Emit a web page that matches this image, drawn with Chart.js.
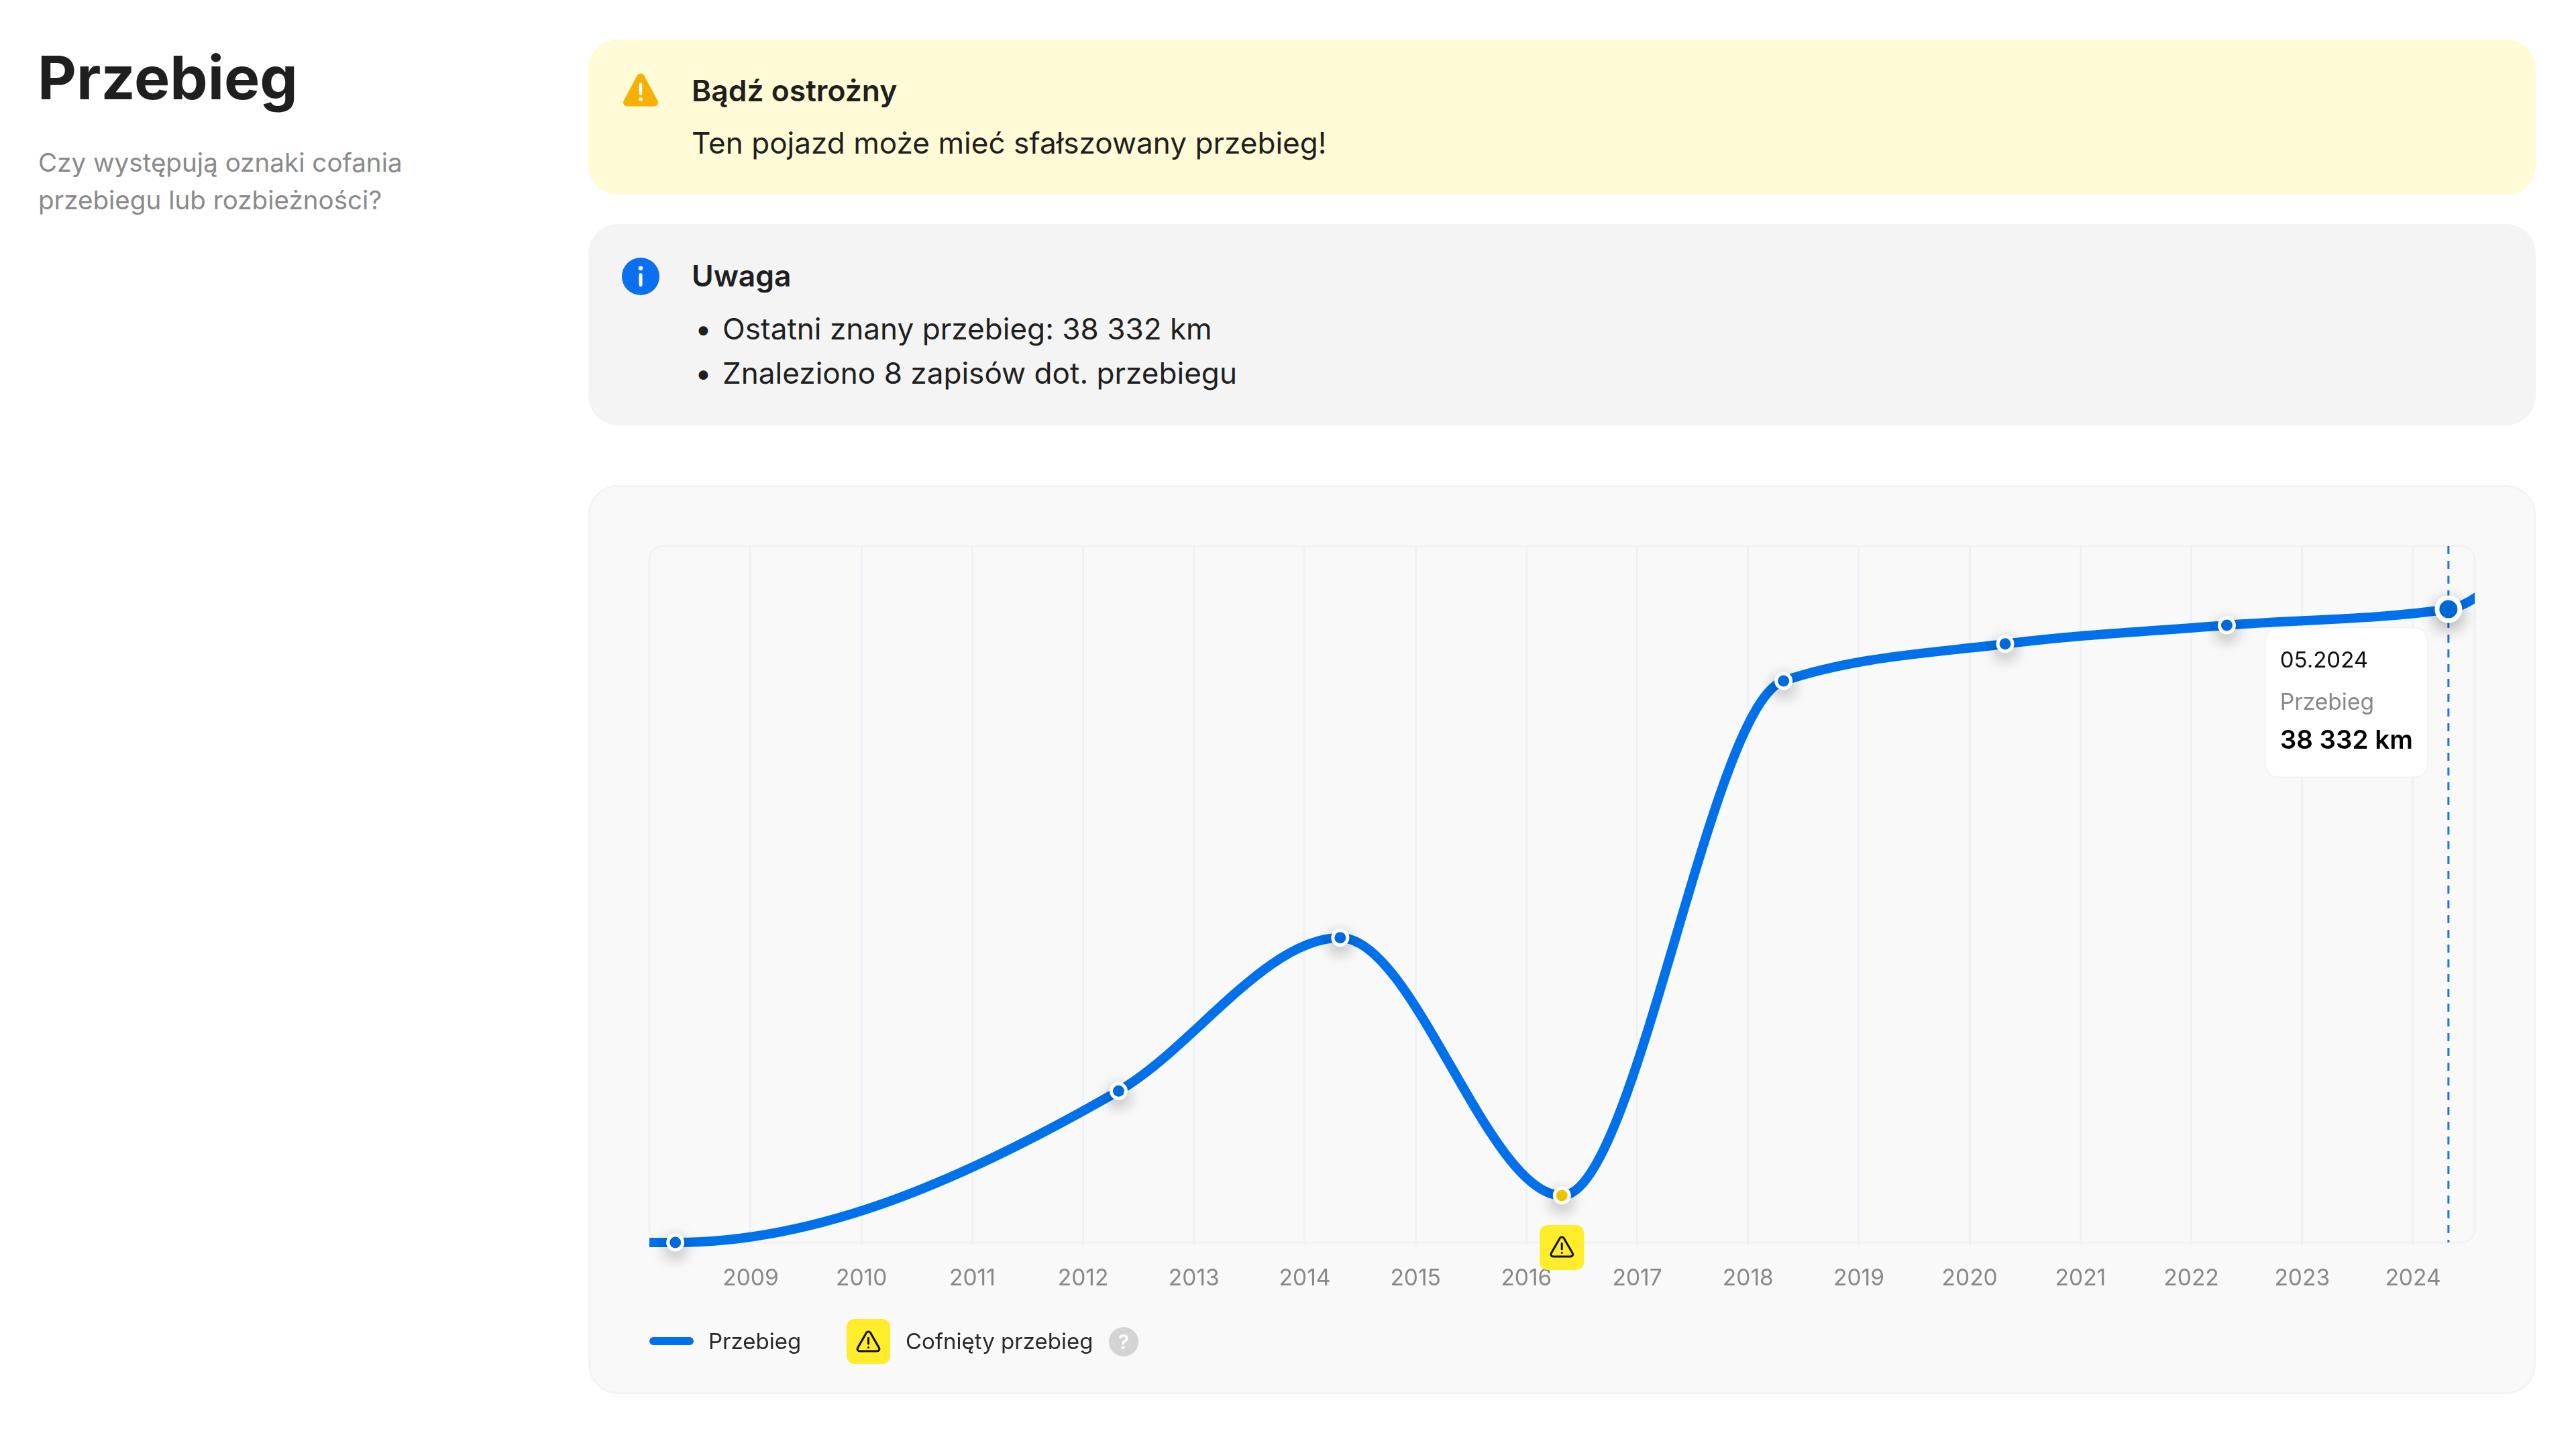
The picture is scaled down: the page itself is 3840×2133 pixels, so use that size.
<!DOCTYPE html>
<html lang="pl">
<head>
<meta charset="utf-8">
<title>Przebieg</title>
<script src="https://cdn.jsdelivr.net/npm/chart.js@4"></script>
<style>
    html, body { margin: 0; padding: 0; background: #fff; }
    body { position: relative; width: 3840px; height: 2133px; overflow: hidden; font-family: Inter, sans-serif; color: #1f1f1f; }
    .abs { position: absolute; white-space: nowrap; }
    .box { position: absolute; left: 877px; width: 2903px; border-radius: 44px; box-sizing: border-box; }
    h1 { margin: 0; font-size: 89.5px; font-weight: 700; line-height: 100px; }
    .sub { font-size: 38.6px; line-height: 56px; color: #8a8a8a; }
    .head { font-size: 44.4px; font-weight: 600; line-height: 60px; }
    .txt { font-size: 44.1px; line-height: 60px; }
    .leg { font-size: 33px; line-height: 50px; color: #2a2a2a; }
    canvas { position: absolute; left: 877px; top: 723px; }
</style>
</head>
<body>
<h1 class="abs" style="left:56px;top:66px">Przebieg</h1>
<div class="abs sub" style="left:57px;top:214px">Czy występują oznaki cofania<br>przebiegu lub rozbieżności?</div>

<div class="box" style="top:59px;height:232px;background:#fffbd6"></div>
<svg class="abs" style="left:927px;top:106px" width="56" height="56" viewBox="0 0 24 24">
    <path fill="#f5b000" d="M12 1.5c-.9 0-1.7.5-2.2 1.3L1.2 18.9c-.9 1.7.3 3.6 2.2 3.6h17.2c1.9 0 3.1-1.9 2.2-3.6L14.2 2.8c-.5-.8-1.3-1.3-2.2-1.3z"/>
    <rect x="11" y="7.5" width="2" height="8" rx="1" fill="#fff"/><circle cx="12" cy="18" r="1.2" fill="#fff"/>
</svg>
<div class="abs head" style="left:1031px;top:105px">Bądź ostrożny</div>
<div class="abs txt" style="left:1031px;top:183px">Ten pojazd może mieć sfałszowany przebieg!</div>

<div class="box" style="top:334px;height:300px;background:#f4f4f4"></div>
<svg class="abs" style="left:927px;top:384px" width="56" height="56" viewBox="0 0 24 24">
    <circle cx="12" cy="12" r="12" fill="#0a6ff0"/>
    <circle cx="12" cy="6.8" r="1.4" fill="#fff"/><rect x="10.9" y="10" width="2.2" height="8.5" rx="1" fill="#fff"/>
</svg>
<div class="abs head" style="left:1031px;top:381px">Uwaga</div>
<div class="abs txt" style="left:1036px;top:460px">•</div>
<div class="abs txt" style="left:1077px;top:460px">Ostatni znany przebieg: 38 332 km</div>
<div class="abs txt" style="left:1036px;top:526px">•</div>
<div class="abs txt" style="left:1077px;top:526px">Znaleziono 8 zapisów dot. przebiegu</div>

<div class="box" style="top:723px;height:1355px;background:#f9f9f9;border:3px solid #f3f3f3"></div>
<canvas id="mileageChart" width="2903" height="1355"></canvas>

<div class="abs" style="left:968px;top:1993px;width:66px;height:12px;border-radius:6px;background:#0071eb"></div>
<div class="abs leg" style="left:1056px;top:1974px">Przebieg</div>
<div class="abs" style="left:1262px;top:1966px;width:65px;height:67px;border-radius:12px;background:#ffec2b"></div>
<svg class="abs" style="left:1274px;top:1979px" width="41" height="41" viewBox="0 0 24 24" fill="none" stroke="#111" stroke-width="1.8" stroke-linejoin="round" stroke-linecap="round">
    <path d="M12 3.5c-.7 0-1.4.4-1.8 1L2.7 17.5c-.8 1.4.2 3 1.8 3h15c1.6 0 2.6-1.6 1.8-3L13.8 4.5c-.4-.6-1.1-1-1.8-1z"/>
    <path d="M12 9v5M12 17.2v.1"/>
</svg>
<div class="abs leg" style="left:1350px;top:1974px">Cofnięty przebieg</div>
<div class="abs" style="left:1653px;top:1978px;width:44px;height:44px;border-radius:50%;background:#d4d4d4;color:#fff;font-size:30px;font-weight:600;line-height:44px;text-align:center">?</div>

<script>
const seriesName = 'Przebieg';
const recordLabels = ['05.2008', '05.2012', '05.2014', '05.2016', '05.2018', '05.2020', '05.2022', '05.2024'];
const recordYears = [2008.32, 2012.32, 2014.32, 2016.32, 2018.32, 2020.32, 2022.32, 2024.32];
const recordKm = [0, 9170, 18450, 2840, 33990, 36230, 37360, 38332];
// the curve runs out of the plot on both sides
const lineYears = [2007.5, ...recordYears, 2025];
const lineKm = [0, ...recordKm, 41700];

const xMin = 2008.086;
const xMax = 2024.557;
const yMax = 42150;

const WARN_PATH = 'M12 3.5c-.7 0-1.4.4-1.8 1L2.7 17.5c-.8 1.4.2 3 1.8 3h15c1.6 0 2.6-1.6 1.8-3L13.8 4.5c-.4-.6-1.1-1-1.8-1z';
const isRollback = i => i > 0 && recordKm[i] < recordKm[i - 1];
const lastIndex = recordKm.length - 1;

// the reference curve has tighter tangents than Chart.js monotone, so redo the control points
const tightCurve = {
    id: 'tightCurve',
    beforeDatasetDraw(chart, args) {
        if (args.index !== 0) return;
        const pts = chart.getDatasetMeta(0).dataset.points;
        const secant = i => (pts[i + 1].y - pts[i].y) / (pts[i + 1].x - pts[i].x);
        const n = pts.length;
        const slopes = pts.map((p, i) => {
            if (i === 0 || i === n - 1) return null;
            const h0 = p.x - pts[i - 1].x, h1 = pts[i + 1].x - p.x;
            const s0 = secant(i - 1), s1 = secant(i);
            const mid = (s0 * h1 + s1 * h0) / (h0 + h1);
            return (Math.sign(s0) + Math.sign(s1)) * Math.min(Math.abs(s0), Math.abs(s1), 0.5 * Math.abs(mid));
        });
        slopes[0] = (3 * secant(0) - slopes[1]) / 2;
        slopes[n - 1] = (3 * secant(n - 2) - slopes[n - 2]) / 2;
        pts.forEach((p, i) => {
            if (i > 0) {
                const dx = (p.x - pts[i - 1].x) / 3;
                p.cp1x = p.x - dx;
                p.cp1y = p.y - dx * slopes[i];
            }
            if (i < n - 1) {
                const dx = (pts[i + 1].x - p.x) / 3;
                p.cp2x = p.x + dx;
                p.cp2y = p.y + dx * slopes[i];
            }
        });
    }
};

// frame around the plot and the dashed line under the last record
const backdrop = {
    id: 'backdrop',
    beforeDatasetsDraw(chart) {
        const { ctx, chartArea: a, scales } = chart;
        ctx.save();
        ctx.strokeStyle = '#f2f2f2';
        ctx.lineWidth = 3;
        ctx.beginPath();
        ctx.roundRect(a.left, a.top, a.width, a.height, 20);
        ctx.stroke();
        const x = scales.x.getPixelForValue(recordYears[lastIndex]);
        ctx.strokeStyle = '#1275e8';
        ctx.setLineDash([12, 10]);
        ctx.beginPath();
        ctx.moveTo(x, a.top);
        ctx.lineTo(x, a.bottom);
        ctx.stroke();
        ctx.restore();
    }
};

// soft shadow only for the record dots
const dotShadow = {
    id: 'dotShadow',
    beforeDatasetDraw(chart, args) {
        if (args.index !== 1) return;
        const ctx = chart.ctx;
        ctx.save();
        ctx.shadowColor = 'rgba(0,0,0,0.32)';
        ctx.shadowBlur = 26;
        ctx.shadowOffsetY = 8;
    },
    afterDatasetDraw(chart, args) {
        if (args.index === 1) chart.ctx.restore();
    }
};

// yellow badge on the axis under a rollback
const rollbackBadge = {
    id: 'rollbackBadge',
    afterDatasetsDraw(chart) {
        const { ctx, scales } = chart;
        recordKm.forEach((km, i) => {
            if (!isRollback(i)) return;
            const x = scales.x.getPixelForValue(recordYears[i]);
            const y = chart.chartArea.bottom + 7;
            ctx.save();
            ctx.fillStyle = '#ffec2b';
            ctx.beginPath();
            ctx.roundRect(x - 33, y - 33, 66, 67, 12);
            ctx.fill();
            ctx.translate(x - 20.5, y - 21);
            ctx.scale(41 / 24, 41 / 24);
            ctx.strokeStyle = '#111';
            ctx.lineWidth = 1.8;
            ctx.lineJoin = 'round';
            ctx.lineCap = 'round';
            ctx.stroke(new Path2D(WARN_PATH));
            ctx.stroke(new Path2D('M12 9v5M12 17.2v.1'));
            ctx.restore();
        });
    }
};

Chart.Tooltip.positioners.besideDot = function (items) {
    if (!items.length) return false;
    return { x: items[0].element.x - 31, y: items[0].element.y + 139, xAlign: 'right', yAlign: 'center' };
};

const chart = new Chart(document.getElementById('mileageChart').getContext('2d'), {
    type: 'line',
    data: {
        datasets: [{
            label: seriesName,
            data: lineYears.map((x, i) => ({ x, y: lineKm[i] })),
            borderColor: '#0071eb',
            borderWidth: 14,
            pointRadius: 0,
            cubicInterpolationMode: 'monotone',
            clip: { left: 0, right: 0, top: false, bottom: false },
            order: 2
        }, {
            label: seriesName,
            data: recordYears.map((x, i) => ({ x, y: recordKm[i] })),
            showLine: false,
            clip: false,
            order: 1,
            pointRadius: ctx => ctx.dataIndex === lastIndex ? 17 : 11,
            pointBorderWidth: ctx => ctx.dataIndex === lastIndex ? 7 : 5,
            pointBorderColor: '#fff',
            pointBackgroundColor: ctx => isRollback(ctx.dataIndex) ? '#ffd000' : '#0071eb'
        }]
    },
    options: {
        responsive: false,
        devicePixelRatio: 1,
        animation: false,
        events: [],
        layout: { padding: { left: 91, right: 91, top: 91, bottom: 146 } },
        scales: {
            x: {
                type: 'linear',
                min: xMin,
                max: xMax,
                afterFit(scale) { scale.height = 80; },
                border: { display: false },
                grid: { color: '#eef1f6', lineWidth: 3, tickLength: 4 },
                ticks: {
                    stepSize: 1,
                    includeBounds: false,
                    autoSkip: false,
                    maxRotation: 0,
                    padding: 30,
                    color: '#888',
                    font: { family: 'Inter', size: 33.5 },
                    callback: v => String(v)
                }
            },
            y: { display: false, min: 0, max: yMax }
        },
        plugins: {
            legend: { display: false },
            tooltip: {
                animation: false,
                position: 'besideDot',
                displayColors: false,
                caretSize: 0,
                caretPadding: 0,
                backgroundColor: '#fff',
                borderColor: '#f3f3f3',
                borderWidth: 2,
                cornerRadius: 22,
                padding: { top: 30, bottom: 31, left: 22, right: 22 },
                titleColor: '#111',
                titleFont: { family: 'Inter', size: 33, weight: '400' },
                titleMarginBottom: 23,
                bodyColor: '#888',
                bodyFont: { family: 'Inter', size: 33.5 },
                footerColor: '#000',
                footerFont: { family: 'Inter', size: 38.5, weight: '600' },
                footerMarginTop: 13,
                callbacks: {
                    title: items => recordLabels[items[0].dataIndex],
                    label: () => seriesName,
                    footer: items => String(recordKm[items[0].dataIndex]).replace(/\B(?=(\d{3})+$)/g, ' ') + ' km'
                }
            }
        }
    },
    plugins: [tightCurve, backdrop, dotShadow, rollbackBadge]
});

chart.tooltip.setActiveElements([{ datasetIndex: 1, index: lastIndex }], { x: 0, y: 0 });
chart.update();
</script>
</body>
</html>
